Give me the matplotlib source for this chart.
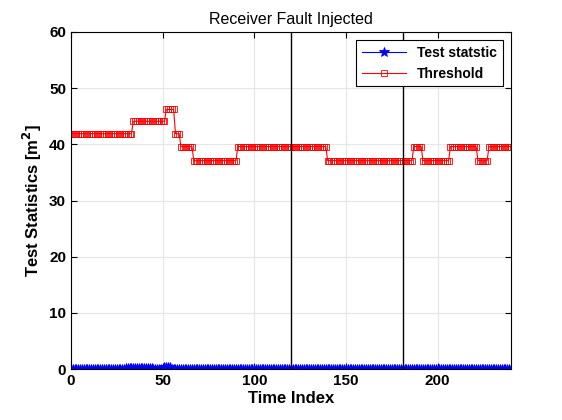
import matplotlib
matplotlib.use('Agg')
import matplotlib.pyplot as plt
import numpy as np

plt.rcParams['font.family'] = ['Liberation Sans', 'DejaVu Sans']

# Threshold as (level, number of samples) runs
thr_levels = [41.9, 44.1, 46.2, 41.9, 39.6, 37.1, 39.6, 37.1, 39.6, 37.1, 39.6, 37.1, 39.6]
thr_counts = [34, 18, 5, 3, 7, 24, 49, 47, 5, 15, 15, 6, 13]

# Test statistic runs (stays close to zero)
ts_levels = [0.1, 0.15, 0.1, 0.3, 0.1, 0.12, 0.1]
ts_counts = [30, 15, 6, 4, 60, 60, 66]

fault_lines = [120, 181]

threshold = np.repeat(thr_levels, thr_counts)
test_stat = np.repeat(ts_levels, ts_counts)
idx = np.arange(len(threshold))

fig = plt.figure(figsize=(5.62, 4.2), dpi=100)
ax = fig.add_axes([0.1263, 0.121, 0.7829, 0.803])

ax.plot(idx, test_stat, color='blue', marker='*', markersize=7, linewidth=0.8,
        markeredgewidth=0.6, label='Test statstic')
ax.plot(idx, threshold, color='red', marker='s', markersize=4, fillstyle='none',
        markeredgewidth=0.6, linewidth=0.8, label='Threshold')
for xv in fault_lines:
    ax.axvline(xv, color='black', linewidth=1)

ax.set_xlim(0, 240)
ax.set_ylim(0, 60)
ax.set_xticks([0, 50, 100, 150, 200])
ax.set_yticks([0, 10, 20, 30, 40, 50, 60])
ax.grid(True, color='#e6e6e6', linewidth=0.8)
ax.set_axisbelow(True)
ax.tick_params(direction='in', labelsize=11, length=4, top=True, right=True)
for lab in ax.get_xticklabels() + ax.get_yticklabels():
    lab.set_fontweight('bold')

ax.set_title('Receiver Fault Injected', fontsize=11.5)
ax.set_xlabel('Time Index', fontsize=12, fontweight='bold', labelpad=2)
ax.set_ylabel('Test Statistics [m$^\\mathbf{2}$]', fontsize=12, fontweight='bold')

leg = ax.legend(loc='upper right', fancybox=False, edgecolor='black',
                prop={'weight': 'bold', 'size': 10}, framealpha=1,
                handlelength=3.2, borderaxespad=0.6)
leg.get_frame().set_linewidth(0.8)

fig.savefig('out.png', dpi=100)
